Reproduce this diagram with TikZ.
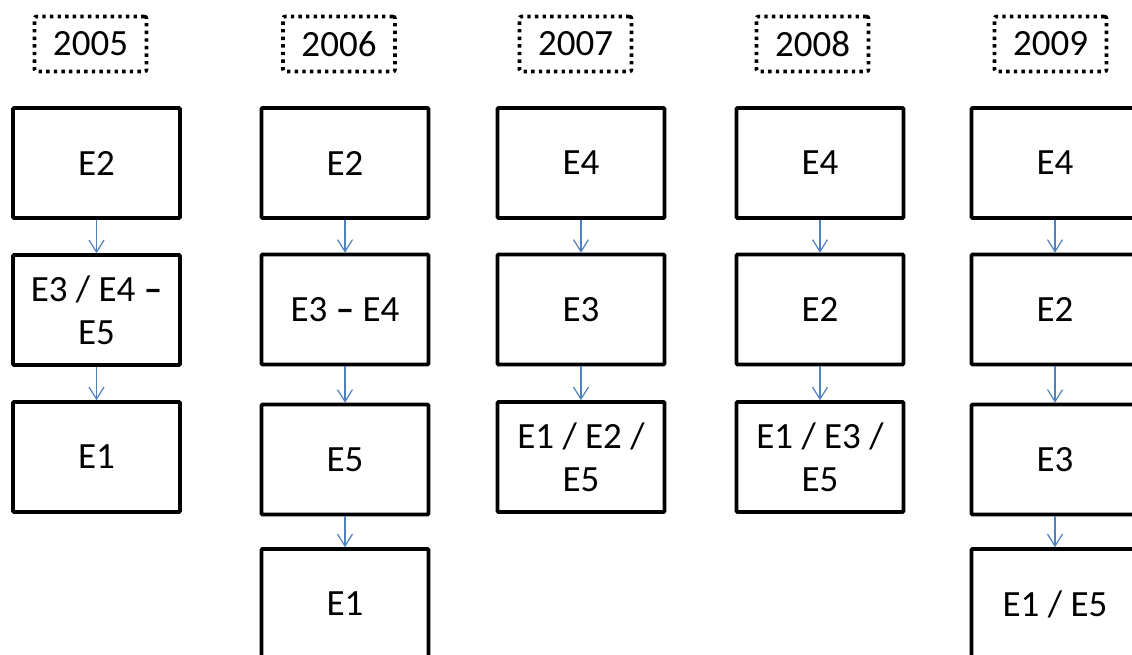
\documentclass[tikz,border=0pt]{standalone}
\usepackage{fontspec}
\setmainfont{Carlito}
\usetikzlibrary{arrows.meta}
\definecolor{flowblue}{RGB}{79,129,189}
\begin{document}
\begin{tikzpicture}[x=1pt,y=-1pt,
  stage/.style={draw=black, line width=3.6pt, minimum width=167pt, minimum height=110pt,
    inner sep=0pt, align=center, rounded corners=1pt, font=\fontsize{37}{43}\selectfont},
  yearbox/.style={draw=black, line width=3.6pt, dash pattern=on 3.4pt off 4.2pt,
    minimum width=112pt, minimum height=55pt, inner sep=0pt, rounded corners=2pt,
    font=\fontsize{37}{43}\selectfont},
  flow/.style={draw=flowblue, line width=1.2pt,
    -{Straight Barb[length=12pt,width=15pt,line width=1.2pt]}}]
\useasboundingbox (0,0) rectangle (1132,655);
\clip (0,0) rectangle (1132,655);
\fill[white] (0,0) rectangle (1132,655);

% year labels
\node[yearbox] (y1) at (90.5,44) {2005};
\node[yearbox] (y2) at (339,44) {2006};
\node[yearbox] (y3) at (575.5,44) {2007};
\node[yearbox] (y4) at (812.5,44) {2008};
\node[yearbox] (y5) at (1050.5,44) {2009};

% 2005
\node[stage] (a1) at (96.5,163) {E2};
\node[stage] (a2) at (96.5,310) {E3 / E4 {\bfseries –}\\E5};
\node[stage] (a3) at (96.5,457) {E1};
\draw[flow] (a1) -- (a2);
\draw[flow] (a2) -- (a3);

% 2006
\node[stage] (b1) at (345,163) {E2};
\node[stage] (b2) at (345,309.5) {E3 {\bfseries –} E4};
\node[stage] (b3) at (345,459.5) {E5};
\node[stage] (b4) at (345,604) {E1};
\draw[flow] (b1) -- (b2);
\draw[flow] (b2) -- (b3);
\draw[flow] (b3) -- (b4);

% 2007
\node[stage] (c1) at (581,163) {E4};
\node[stage] (c2) at (581,309.5) {E3};
\node[stage] (c3) at (581,457) {E1 / E2 /\\E5};
\draw[flow] (c1) -- (c2);
\draw[flow] (c2) -- (c3);

% 2008
\node[stage] (d1) at (820,163) {E4};
\node[stage] (d2) at (820,309.5) {E2};
\node[stage] (d3) at (820,457) {E1 / E3 /\\E5};
\draw[flow] (d1) -- (d2);
\draw[flow] (d2) -- (d3);

% 2009
\node[stage] (e1) at (1055,163) {E4};
\node[stage] (e2) at (1055,309.5) {E2};
\node[stage] (e3) at (1055,459.5) {E3};
\node[stage] (e4) at (1055,604) {E1 / E5};
\draw[flow] (e1) -- (e2);
\draw[flow] (e2) -- (e3);
\draw[flow] (e3) -- (e4);
\end{tikzpicture}
\end{document}
